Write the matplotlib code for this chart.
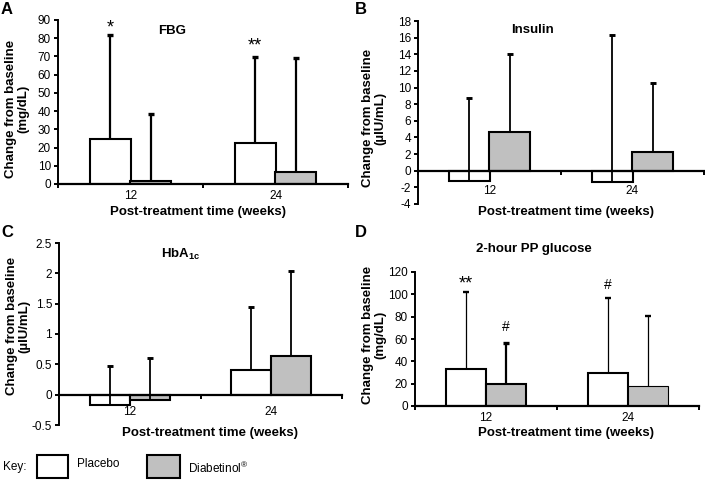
import numpy as np
import matplotlib
matplotlib.use('Agg')
from matplotlib import pyplot as plt
from matplotlib.patches import Rectangle

plt.rcParams['font.family'] = ['Liberation Sans', 'DejaVu Sans']
plt.rcParams['mathtext.fontset'] = 'custom'
plt.rcParams['mathtext.rm'] = 'Liberation Sans'
plt.rcParams['mathtext.bf'] = 'Liberation Sans:bold'

weeks = ['12', '24']

# mean change and upper SD
fbg_placebo = [24.5, 22.5]
fbg_placebo_sd = [57.3, 47.2]
fbg_diab = [1.5, 6.8]
fbg_diab_sd = [37.0, 62.2]

ins_placebo = [-1.2, -1.4]
ins_placebo_sd = [10.0, 17.7]
ins_diab = [4.6, 2.2]
ins_diab_sd = [9.4, 8.3]

hba_placebo = [-0.17, 0.40]
hba_placebo_sd = [0.64, 1.05]
hba_diab = [-0.09, 0.63]
hba_diab_sd = [0.69, 1.41]

pp_placebo = [33.5, 29.5]
pp_placebo_sd = [68.5, 67.0]
pp_diab = [19.5, 17.5]
pp_diab_sd = [36.5, 63.3]

GRAY = '#c0c0c0'
W = 0.283
OFF = 0.141
LAB = 9.5
TICK = 8.5

fig = plt.figure(figsize=(7.05, 4.8), dpi=100)


def upper_err(ax, x, y, sd, lw):
    eb = ax.errorbar(x, y, yerr=[[0], [sd]], fmt='none', ecolor='black',
                     elinewidth=lw, capsize=2, capthick=lw + 0.8, zorder=3)
    # only the upper cap, like the original
    eb[1][0].set_visible(False)


def panel(rect, ylim, yticks, plac, plac_sd, diab, diab_sd, edge_w, err_w,
          ylabel, lab_xy, xlab_xy, pad):
    ax = fig.add_axes(rect)
    x = np.arange(len(weeks)) + 0.5
    for i in range(len(weeks)):
        ax.bar(x[i] - OFF, plac[i], W, color='white', edgecolor='black',
               linewidth=edge_w[0][i], zorder=2)
        ax.bar(x[i] + OFF, diab[i], W, color=GRAY, edgecolor='black',
               linewidth=edge_w[1][i], zorder=2)
        upper_err(ax, x[i] - OFF, plac[i], plac_sd[i], err_w[0][i])
        upper_err(ax, x[i] + OFF, diab[i], diab_sd[i], err_w[1][i])
    ax.set_xlim(0, 2)
    ax.set_ylim(*ylim)
    ax.set_yticks(yticks)
    ax.set_yticklabels(['%g' % v for v in yticks])
    for s in ['top', 'right']:
        ax.spines[s].set_visible(False)
    ax.spines['bottom'].set_position(('data', 0))
    ax.spines['bottom'].set_linewidth(1.6)
    ax.spines['bottom'].set_zorder(4)
    ax.spines['left'].set_linewidth(1.4)
    ax.set_xticks(x)
    ax.set_xticklabels(weeks)
    ax.set_xticks([0, 1, 2], minor=True)
    ax.tick_params(axis='x', which='major', length=0, pad=pad, labelsize=TICK)
    ax.tick_params(axis='x', which='minor', length=3, width=1.4, direction='out')
    ax.tick_params(axis='y', length=3, width=1.4, direction='out', pad=2,
                   labelsize=TICK)
    ax.set_ylabel(ylabel, fontsize=LAB, fontweight='bold', linespacing=1.05,
                  va='center')
    ax.yaxis.set_label_coords(*lab_xy)
    ax.set_xlabel('Post-treatment time (weeks)', fontsize=LAB, fontweight='bold',
                  va='center')
    ax.xaxis.set_label_coords(*xlab_xy)
    return ax


thick = [[1.5, 1.5], [1.5, 1.5]]

axA = panel([58 / 705, 1 - 184 / 480, 290 / 705, 164 / 480], (0, 90),
            range(0, 91, 10), fbg_placebo, fbg_placebo_sd, fbg_diab, fbg_diab_sd,
            thick, [[1.6, 1.6], [1.6, 1.6]],
            'Change from baseline\n(mg/dL)', (-0.141, 0.46), (0.483, -0.17), 4)
axA.text(0.5 - OFF, 85.5, '*', ha='center', va='center', fontsize=13)
axA.text(1.5 - OFF, 75.5, '**', ha='center', va='center', fontsize=13)
axA.text(0.79, 84, 'FBG', ha='center', va='center', fontsize=LAB,
         fontweight='bold')

axB = panel([418 / 705, 1 - 204 / 480, 286 / 705, 183 / 480], (-4, 18),
            range(-4, 19, 2), ins_placebo, ins_placebo_sd, ins_diab, ins_diab_sd,
            thick, [[1.3, 1.3], [1.3, 1.3]],
            'Change from baseline\n(µIU/mL)', (-0.154, 0.47), (0.517, -0.044), 10)
axB.text(0.8, 16.9, 'Insulin', ha='center', va='center', fontsize=LAB,
         fontweight='bold')

axC = panel([59 / 705, 1 - 425 / 480, 283 / 705, 182 / 480], (-0.5, 2.5),
            [-0.5, 0, 0.5, 1, 1.5, 2, 2.5], hba_placebo, hba_placebo_sd,
            hba_diab, hba_diab_sd, thick, [[1.3, 1.3], [1.3, 1.3]],
            'Change from baseline\n(µIU/mL)', (-0.145, 0.544), (0.534, -0.044), 8)
axC.text(0.86, 2.31, r'HbA$_{\mathbf{1c}}$', ha='center', va='center',
         fontsize=LAB, fontweight='bold')

axD = panel([415 / 705, 1 - 406 / 480, 284 / 705, 134 / 480], (0, 120),
            range(0, 121, 20), pp_placebo, pp_placebo_sd, pp_diab, pp_diab_sd,
            [[1.5, 1.5], [1.5, 0.8]], [[0.9, 0.9], [1.6, 0.9]],
            'Change from baseline\n(mg/dL)', (-0.144, 0.53), (0.53, -0.2), 4)
axD.text(0.5 - OFF, 109.5, '**', ha='center', va='center', fontsize=13)
axD.text(0.5 + OFF, 71, '#', ha='center', va='center', fontsize=10)
axD.text(1.5 - OFF, 108, '#', ha='center', va='center', fontsize=10)
axD.text(0.42, 1.17, '2-hour PP glucose', transform=axD.transAxes, ha='center',
         va='center', fontsize=LAB, fontweight='bold')

for lab, (px, py) in zip('ABCD', [(1, 9), (355, 9), (1, 233), (355, 233)]):
    fig.text(px / 705, 1 - py / 480, lab, ha='left', va='center', fontsize=12,
             fontweight='bold')

# key
fig.text(3 / 705, 1 - 467 / 480, 'Key:', ha='left', va='center', fontsize=8.5)
fig.patches.append(Rectangle((37 / 705, 1 - 478 / 480), 31 / 705, 23 / 480,
                             facecolor='white', edgecolor='black', linewidth=1.5,
                             transform=fig.transFigure, figure=fig))
fig.text(77 / 705, 1 - 464 / 480, 'Placebo', ha='left', va='center', fontsize=8.5)
fig.patches.append(Rectangle((147 / 705, 1 - 478 / 480), 33 / 705, 23 / 480,
                             facecolor=GRAY, edgecolor='black', linewidth=1.5,
                             transform=fig.transFigure, figure=fig))
fig.text(188 / 705, 1 - 468 / 480, 'Diabetinol$^{®}$', ha='left', va='center',
         fontsize=8.5)

fig.savefig('out.png', dpi=100)
